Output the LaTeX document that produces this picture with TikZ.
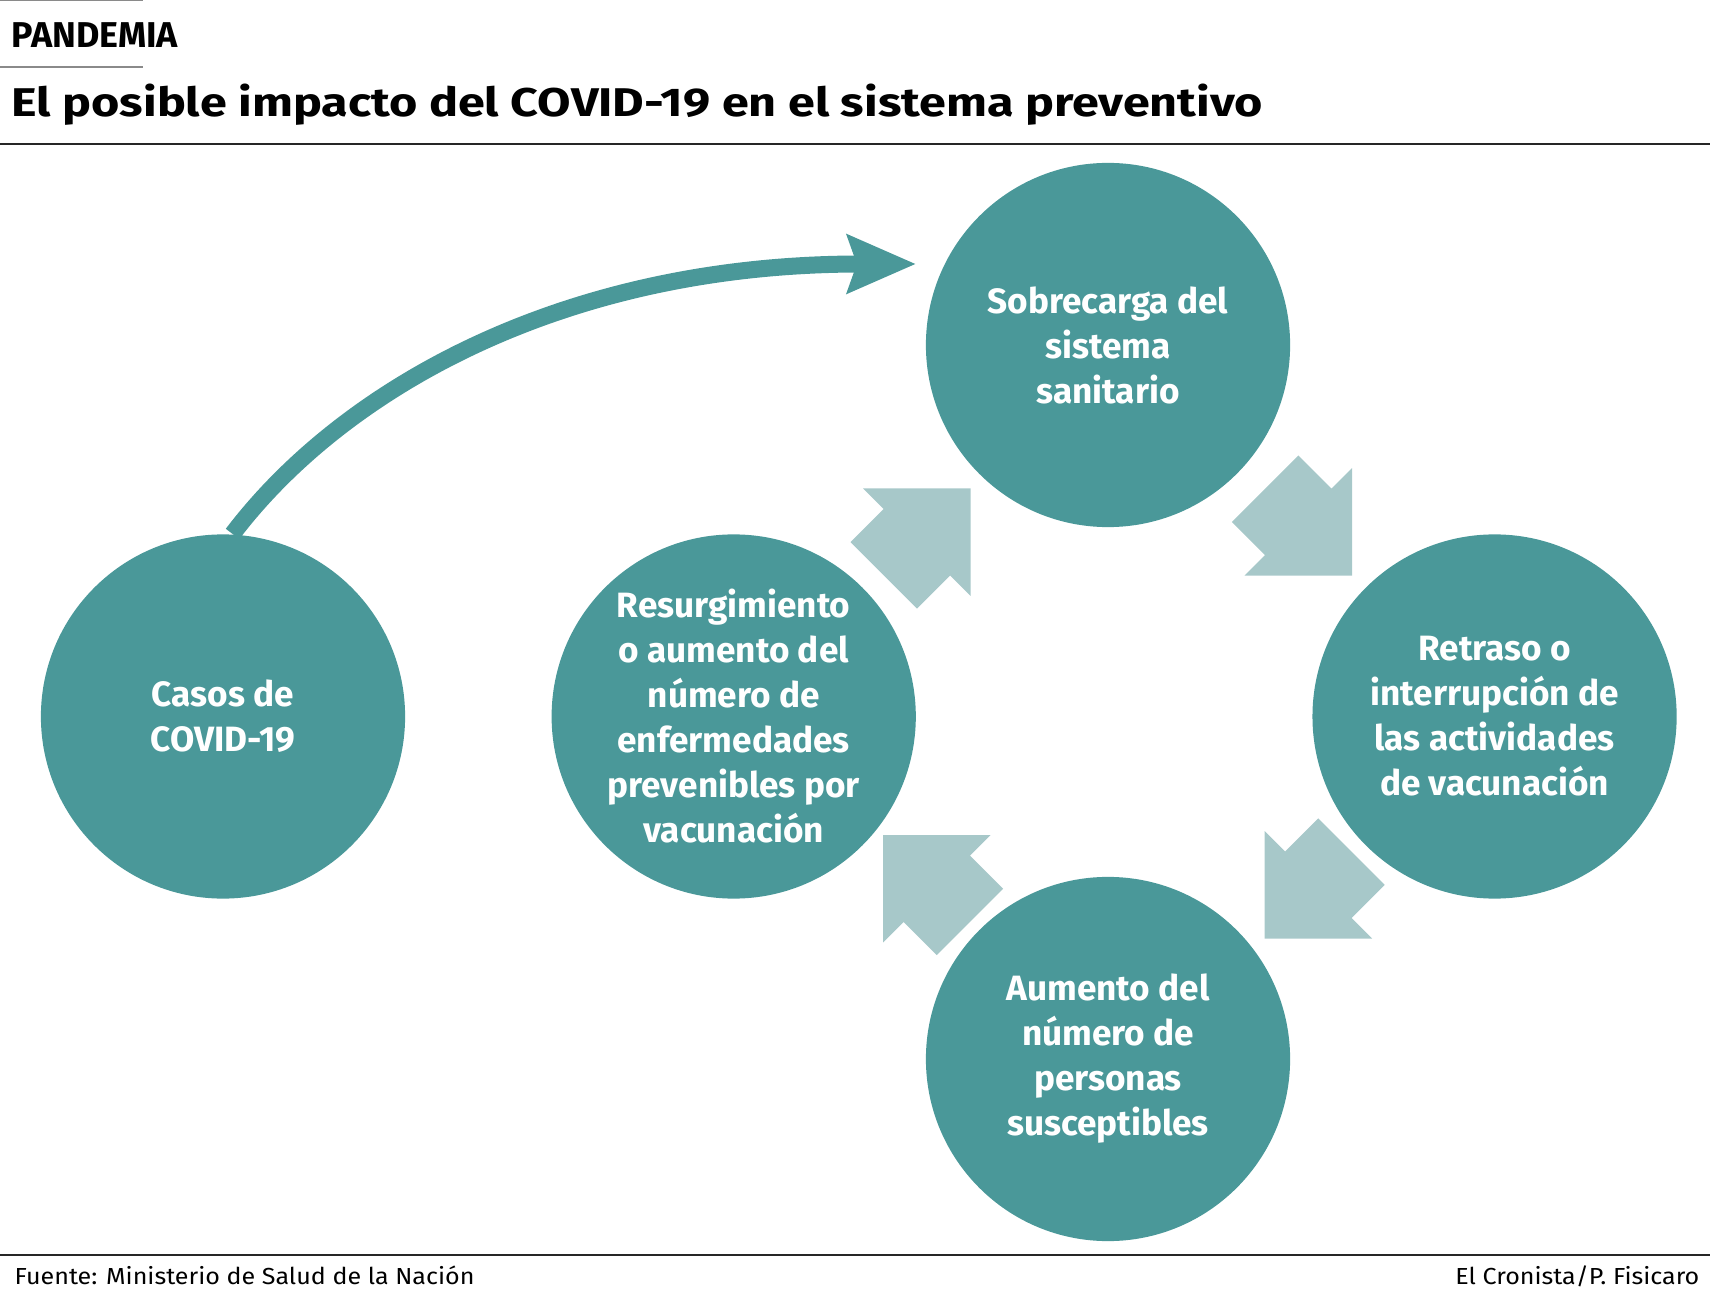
\documentclass[tikz,border=0pt]{standalone}
\usepackage{fontspec}
\setmainfont{Fira Sans}
\newfontfamily\titulofont[FakeStretch=1.21]{Fira Sans}
\newfontfamily\piefont[FakeStretch=1.08]{Fira Sans}
\usetikzlibrary{arrows.meta, positioning}
\definecolor{verde}{HTML}{4A9899}
\definecolor{verdeclaro}{HTML}{A7C8C9}
\definecolor{gris}{HTML}{8A8A8A}
\tikzset{
    circulo/.style = {circle, fill=verde, minimum size=3.64cm, inner sep=0pt, text=white, align=center, font=\bfseries\fontsize{10}{12.8}\selectfont},
    bloque/.pic = {\fill [verdeclaro] (0,0) -- (-76,76) -- (-76,47) -- (-123,47) -- (-123,-47) -- (-76,-47) -- (-76,-76) -- cycle;},
    flecha/.style = {draw=verde, line width=0.17cm, -{Stealth[length=0.68cm, width=0.57cm, inset=0.09cm]}},
    regla/.style = {line width=0.6pt, draw=black!85},
    texto/.style = {inner sep=0pt}
}

\begin{document}
\begin{tikzpicture}[x=0.01cm, y=-0.01cm]
                    \useasboundingbox (0,0) rectangle (1710,1295);

                    % Encabezado
                    \draw [gris, line width=0.3pt] (0,0.5) -- (143,0.5);
                    \draw [gris, line width=0.4pt] (0,67) -- (143,67);
                    \node (tema) [texto, anchor=base west, font=\bfseries\fontsize{10.2}{12}\selectfont] at (11,48) {PANDEMIA};
                    \node (titulo) [texto, anchor=base west, font=\titulofont\bfseries\fontsize{11.4}{13}\selectfont] at (11,117) {El posible impacto del COVID-19 en el sistema preventivo};
                    \draw [regla] (0,144) -- (1710,144);

                    % Nodos
                    \node (casos) [circulo] at (223,716.5) {Casos de\\COVID-19};
                    \node (resurg) [circulo, right=1.45cm of casos] {Resurgimiento\\o aumento del\\número de\\enfermedades\\prevenibles por\\vacunación};
                    \node (sobre) [circulo] at (1108,345) {Sobrecarga del\\sistema\\sanitario};
                    \node (retraso) [circulo, right=3.95cm of resurg] {Retraso o\\interrupción de\\las actividades\\de vacunación};
                    \node (aumento) [circulo] at (1108,1059) {Aumento del\\número de\\personas\\susceptibles};

                    % Flechas
                    \pic (f1) [rotate=45] at (970.7,488.5) {bloque};
                    \pic (f2) [rotate=-45] at (1352,575.7) {bloque};
                    \pic (f3) [rotate=-135] at (1264.5,938.5) {bloque};
                    \pic (f4) [rotate=135] at (883,835) {bloque};
                    \coordinate (punta) at (916,264);
                    \draw [flecha] (casos.87) .. controls (341,391) and (560,264) .. (punta);

                    % Pie
                    \draw [regla] (0,1255) -- (1710,1255);
                    \node (fuente) [texto, anchor=base west, font=\piefont\fontsize{6.6}{8}\selectfont] at (14,1284) {Fuente: Ministerio de Salud de la Nación};
                    \node (firma) [texto, anchor=base east, font=\piefont\fontsize{6.6}{8}\selectfont] at (1700,1284) {El Cronista/P. Fisicaro};
                \end{tikzpicture}
\end{document}
